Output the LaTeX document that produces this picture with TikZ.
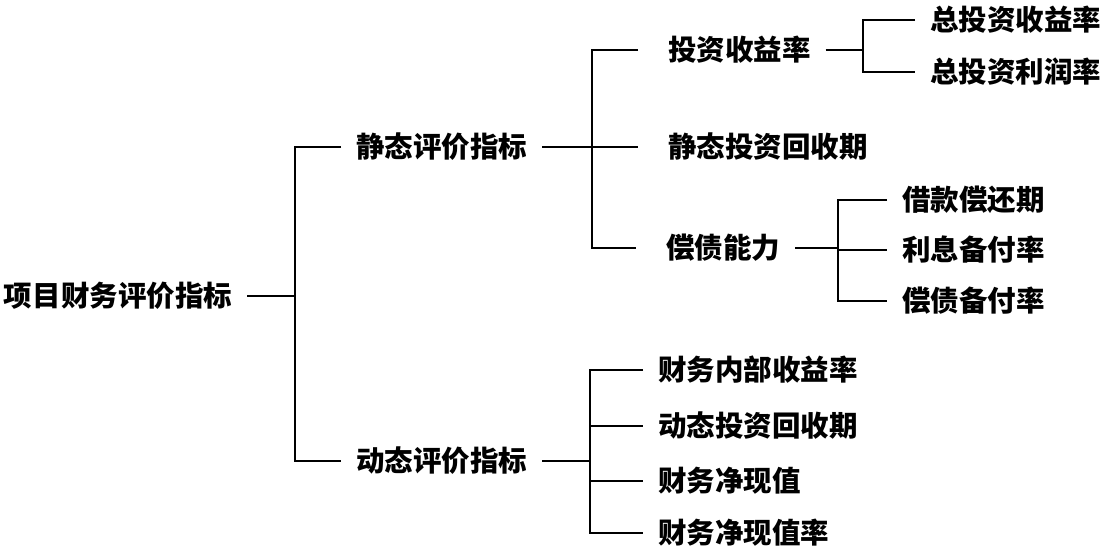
\documentclass[tikz,border=0pt]{standalone}
\usepackage{fontspec}
\setmainfont{Noto Sans CJK SC}[BoldFont={Noto Sans CJK SC Black}]
\usepackage{tikz}
\tikzset{%
  item/.style={anchor=west, inner sep=0pt, outer xsep=15pt, font=\fontsize{28.5}{30}\selectfont\bfseries},
  conn/.style={line width=2.1pt}
}

\begin{document}
\begin{tikzpicture}[x=1pt,y=-1pt]
	\useasboundingbox (0,0) rectangle (1102,555);
	\node[item] (root) at (-11,296) {项目财务评价指标};
	\node[item] (jt) at (341,147) {静态评价指标};
	\node[item] (dt) at (341,461) {动态评价指标};
	\node[item] (tz) at (653,50) {投资收益率};
	\node[item] (jh) at (653,147) {静态投资回收期};
	\node[item] (cz) at (651,248) {偿债能力};
	\node[item] (z1) at (915,20) {总投资收益率};
	\node[item] (z2) at (915,72) {总投资利润率};
	\node[item] (c1) at (887,200) {借款偿还期};
	\node[item] (c2) at (887,250) {利息备付率};
	\node[item] (c3) at (887,301) {偿债备付率};
	\node[item] (d1) at (643,370) {财务内部收益率};
	\node[item] (d2) at (643,426) {动态投资回收期};
	\node[item] (d3) at (643,481) {财务净现值};
	\node[item] (d4) at (643,533) {财务净现值率};
	\coordinate (s0) at (295,0);
	\coordinate (s1) at (592,0);
	\coordinate (s2) at (590,0);
	\coordinate (s3) at (863,0);
	\coordinate (s4) at (838,0);
	\draw[conn] (root.east) -- (root.east -| s0);
	\draw[conn] (jt.west) -- (jt.west -| s0) -- (dt.west -| s0) -- (dt.west);
	\draw[conn] (jt.east) -- (jt.east -| s1);
	\draw[conn] ([xshift=-15pt]tz.west) -- (tz.west -| s1) -- (cz.west -| s1) -- ([xshift=-15pt]cz.west);
	\draw[conn] (jh.west -| s1) -- ([xshift=-15pt]jh.west);
	\draw[conn] (tz.east) -- (tz.east -| s3);
	\draw[conn] (z1.west) -- (z1.west -| s3) -- (z2.west -| s3) -- (z2.west);
	\draw[conn] (cz.east) -- (cz.east -| s4);
	\draw[conn] (c1.west) -- (c1.west -| s4) -- (c3.west -| s4) -- (c3.west);
	\draw[conn] (c2.west -| s4) -- (c2.west);
	\draw[conn] (dt.east) -- (dt.east -| s2);
	\draw[conn] (d1.west) -- (d1.west -| s2) -- (d4.west -| s2) -- (d4.west);
	\draw[conn] (d2.west -| s2) -- (d2.west);
	\draw[conn] (d3.west -| s2) -- (d3.west);
	\end{tikzpicture}
\end{document}
